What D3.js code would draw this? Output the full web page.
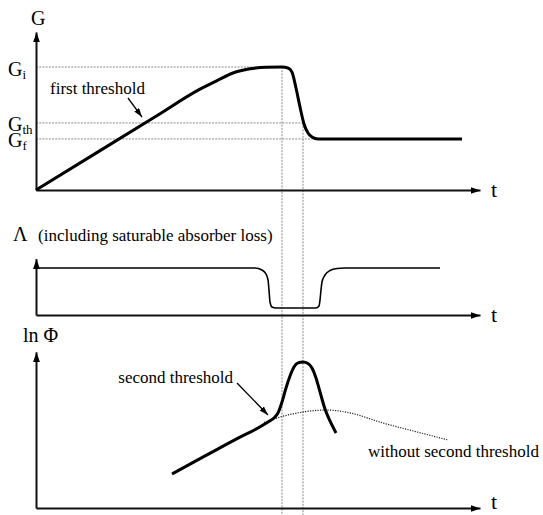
<!DOCTYPE html>
<html>
<head>
<meta charset="utf-8">
<script src="https://cdn.jsdelivr.net/npm/d3@7"></script>
<style>
  html, body { margin: 0; padding: 0; background: #fff; }
  svg { display: block; font-family: "Liberation Serif", "Times New Roman", serif; }
</style>
</head>
<body>
<svg id="chart" width="543" height="515"></svg>
<script>
// Shared time axis (arbitrary units) for the three stacked panels
const tMax = 444;
const tEvents = [246, 267];            // gain peak, gain back at threshold
const tEventFrom = [1.0, 0.545];       // gain level where each guide starts

// Gain G(t)
const gainT = [0, 60, 120, 164, 182, 197, 214, 230, 246, 252, 256, 260, 264, 268, 272, 276, 282, 426];
const gainV = [0, 0.30, 0.60, 0.82, 0.893, 0.951, 0.985, 0.998, 1.0, 0.992, 0.959, 0.829, 0.675, 0.537, 0.463, 0.431, 0.415, 0.415];

// Reference gain levels: initial, threshold, final
const gainLevelNames = ["i", "th", "f"];
const gainLevelValues = [1.0, 0.545, 0.415];
const gainLevelEnds = [246, 267, 279];

// Loss Λ(t), including saturable absorber loss
const lossT = [0, 219, 226, 230, 232, 233, 234, 236, 240, 280, 283, 284, 285, 286, 289, 294, 301, 309, 404];
const lossV = [1, 1, 0.957, 0.872, 0.745, 0.532, 0.277, 0.170, 0.149, 0.149, 0.191, 0.319, 0.532, 0.702, 0.851, 0.947, 0.989, 1, 1];

// Photon flux ln Φ(t)
const fluxT = [136, 170, 204, 222, 232, 238, 242, 246, 250, 254, 258, 262, 267, 272, 276, 280, 284, 289, 294, 300];
const fluxV = [0.233, 0.360, 0.486, 0.548, 0.589, 0.616, 0.651, 0.726, 0.822, 0.904, 0.966, 0.994, 1.0, 0.99, 0.959, 0.890, 0.795, 0.678, 0.596, 0.514];

// ln Φ(t) without the second threshold
const fluxNoT = [228, 246, 264, 274, 291, 314, 347, 381, 412];
const fluxNoV = [0.586, 0.627, 0.654, 0.664, 0.671, 0.651, 0.582, 0.521, 0.466];

const svg = d3.select("#chart");
const serif = '"Liberation Serif", "Times New Roman", serif';

const x = d3.scaleLinear().domain([0, tMax]).range([36, 480]);
const gY = d3.scaleLinear().domain([0, 1]).range([190, 67]);
const lY = d3.scaleLinear().domain([0, 1]).range([315, 268]);
const pY = d3.scaleLinear().domain([0, 1]).range([508, 362]);

// arrowheads
const defs = svg.append("defs");
function head(id, len, wid) {
  defs.append("marker")
    .attr("id", id)
    .attr("viewBox", "0 -5 10 10")
    .attr("refX", 10).attr("refY", 0)
    .attr("markerUnits", "userSpaceOnUse")
    .attr("markerWidth", len).attr("markerHeight", wid)
    .attr("preserveAspectRatio", "none")
    .attr("orient", "auto")
    .append("path").attr("d", "M0,-5L10,0L0,5Z").attr("fill", "#000");
}
head("axisHead", 10, 7);
head("noteHead", 9, 6);

// guide lines (drawn first so curves sit on top)
const guides = svg.append("g")
  .attr("fill", "none").attr("stroke", "#8a8a8a")
  .attr("stroke-width", 1).attr("stroke-dasharray", "2,1.2");

gainLevelValues.forEach((v, i) => {
  guides.append("line")
    .attr("x1", x(0)).attr("x2", x(gainLevelEnds[i]))
    .attr("y1", gY(v)).attr("y2", gY(v));
});
tEvents.forEach((t, i) => {
  guides.append("line")
    .attr("x1", x(t)).attr("x2", x(t))
    .attr("y1", gY(tEventFrom[i])).attr("y2", 515);
});

// axes with arrow tips
function drawAxes(yScale, yTop, tLift) {
  const ax = d3.axisBottom(x).tickValues([]).tickSizeOuter(0);
  const gx = svg.append("g").attr("transform", `translate(0,${yScale(0)})`).call(ax);
  const yAxisScale = yScale.copy().domain([0, yTop]).range([yScale(0), yScale(yTop)]);
  const ay = d3.axisLeft(yAxisScale).tickValues([]).tickSizeOuter(0);
  const gy = svg.append("g").attr("transform", `translate(${x(0)},0)`).call(ay);
  [gx, gy].forEach(g => g.select(".domain")
    .attr("stroke", "#111").attr("stroke-width", 2)
    .attr("marker-end", "url(#axisHead)"));
  svg.append("text")
    .attr("x", 491).attr("y", yScale(0) + tLift)
    .attr("font-size", 22).attr("font-family", serif)
    .text("t");
}
drawAxes(gY, 1.285, 7);
drawAxes(lY, 1.2, 7);
drawAxes(pY, 1.07, 1);

const line = (ys) => d3.line()
  .x(d => x(d[0])).y(d => ys(d[1]))
  .curve(d3.curveMonotoneX);

// G(t)
svg.append("path")
  .datum(d3.zip(gainT, gainV))
  .attr("fill", "none").attr("stroke", "#000").attr("stroke-width", 3)
  .attr("stroke-linejoin", "round")
  .attr("d", line(gY));

// Λ(t)
svg.append("path")
  .datum(d3.zip(lossT, lossV))
  .attr("fill", "none").attr("stroke", "#000").attr("stroke-width", 1.6)
  .attr("d", line(lY));

// ln Φ without second threshold
svg.append("path")
  .datum(d3.zip(fluxNoT, fluxNoV))
  .attr("fill", "none").attr("stroke", "#222").attr("stroke-width", 1.2)
  .attr("stroke-dasharray", "1.2,1.3")
  .attr("d", line(pY));

// ln Φ(t)
svg.append("path")
  .datum(d3.zip(fluxT, fluxV))
  .attr("fill", "none").attr("stroke", "#000").attr("stroke-width", 3)
  .attr("stroke-linecap", "butt").attr("stroke-linejoin", "round")
  .attr("d", line(pY));

// axis titles
const txt = (px, py, size) => svg.append("text")
  .attr("x", px).attr("y", py)
  .attr("font-size", size).attr("font-family", serif).attr("fill", "#000");

txt(31, 25, 20).text("G");

const levelShift = [9, 8, 8];
gainLevelNames.forEach((n, i) => {
  const t = txt(8, gY(gainLevelValues[i]) + levelShift[i], 20);
  t.append("tspan").text("G");
  t.append("tspan").attr("font-size", 13).attr("dy", 3).text(n);
});

txt(13, 241, 20).text("Λ");
txt(38, 241, 17).text("(including saturable absorber loss)");
txt(23, 342, 20).text("ln Φ");

// annotations
txt(x(14), gY(0.78), 17).text("first threshold");
svg.append("line")
  .attr("x1", x(92)).attr("y1", gY(0.748))
  .attr("x2", x(106)).attr("y2", gY(0.593))
  .attr("stroke", "#000").attr("stroke-width", 1.3)
  .attr("marker-end", "url(#noteHead)");

txt(x(197), pY(0.856), 17).attr("text-anchor", "end").text("second threshold");
svg.append("line")
  .attr("x1", x(201)).attr("y1", pY(0.856))
  .attr("x2", x(232)).attr("y2", pY(0.637))
  .attr("stroke", "#000").attr("stroke-width", 1.3)
  .attr("marker-end", "url(#noteHead)");

txt(x(332), pY(0.349), 17).text("without second threshold");
</script>
</body>
</html>
